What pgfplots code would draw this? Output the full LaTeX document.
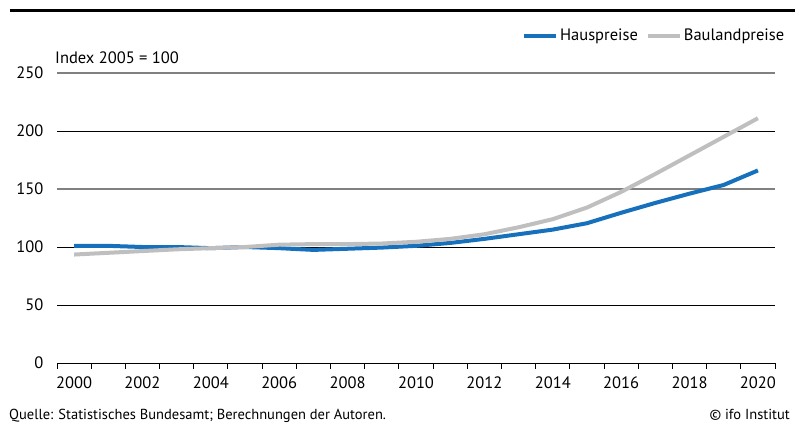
\documentclass[border=0pt]{standalone}
\usepackage{fontspec}
\setmainfont{PT Sans}
\usepackage{pgfplots}
\pgfplotsset{compat=1.18}
\definecolor{ifoblue}{RGB}{23,112,187}
\definecolor{ifogray}{RGB}{191,191,191}
\definecolor{gridgray}{RGB}{128,128,128}
\newcommand{\ff}{\fontsize{16.5}{18}\selectfont}
\newcommand{\fs}{\fontsize{14.5}{16}\selectfont}
\pgfplotstableread{
year haus bauland
2000 101.0 93.5
2001 101.0 95.0
2002 100.0 96.5
2003 100.0 98.0
2004 99.0 99.0
2005 100.0 100.0
2006 99.0 102.0
2007 97.5 102.5
2008 98.5 102.5
2009 99.5 103.0
2010 101.0 104.5
2011 103.5 107.0
2012 107.0 111.0
2013 111.0 117.0
2014 115.0 124.0
2015 120.5 134.0
2016 129.5 147.5
2017 138.0 163.0
2018 146.0 179.0
2019 153.5 195.0
2020 166.0 211.0
}\datatable
\begin{document}
\begin{tikzpicture}[x=1pt,y=1pt]
\path[use as bounding box] (0,0) rectangle (797,-423);
\fill[black] (10,-8.5) rectangle (795,-11.5);
\begin{axis}[at={(57pt,-363pt)}, anchor=south west, scale only axis,
  width=718pt, height=290pt,
  xmin=1999.5, xmax=2020.5, ymin=0, ymax=250,
  axis x line*=bottom, axis y line*=left,
  y axis line style={draw=none},
  x axis line style={line width=1pt, -},
  xtick={2000,2002,...,2020},
  minor xtick={1999.5,2000.5,...,2020.5},
  xtick align=outside,
  major tick length=0pt, minor tick length=6pt,
  minor tick style={black, line width=1pt},
  ytick={0,50,100,200},
  extra y ticks={150,250},
  ymajorgrids,
  grid style={black, line width=0.8pt},
  extra y tick style={grid style={gridgray, line width=1.5pt}},
  xticklabel style={font=\ff, yshift=-10pt},
  yticklabel style={font=\ff, xshift=-10pt},
  /pgf/number format/assume math mode=true,
  /pgf/number format/1000 sep={},
  legend style={at={(axis description cs:1.02,1.128)}, anchor=east,
    draw=none, fill=none, font=\ff, legend columns=2,
    /tikz/every even column/.append style={column sep=6pt}},
  legend image code/.code={\draw[#1] (-2pt,0pt) -- (30pt,0pt);},
  clip=false,
]
\addplot[ifoblue, line width=4pt, line join=round] table[x=year,y=haus] {\datatable};
\addlegendentry{Hauspreise}
\addplot[ifogray, line width=4pt, line join=round] table[x=year,y=bauland] {\datatable};
\addlegendentry{Baulandpreise}
\end{axis}
\node[anchor=west, inner sep=0, font=\ff] at (55,-58) {Index 2005 = 100};
\node[anchor=base west, inner sep=0, font=\fs] at (9,-419) {Quelle: Statistisches Bundesamt; Berechnungen der Autoren.};
\node[anchor=base east, inner sep=0, font=\fs] at (790,-419) {© ifo Institut};
\end{tikzpicture}
\end{document}
